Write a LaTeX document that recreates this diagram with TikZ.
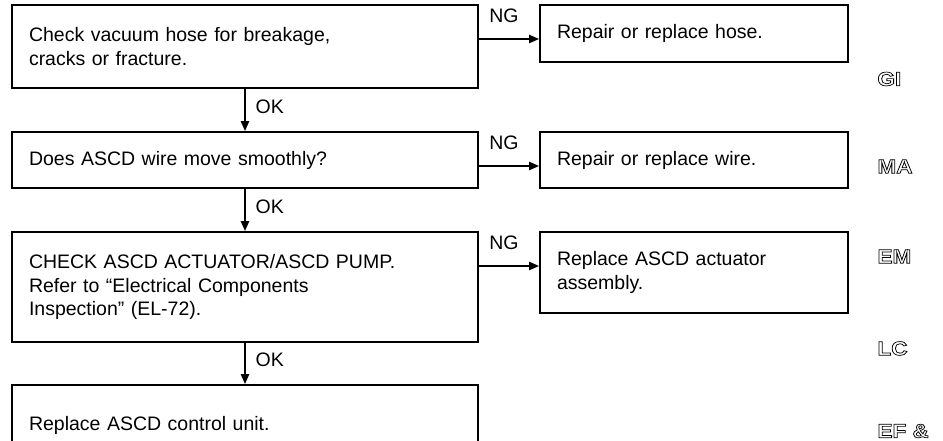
\documentclass[tikz,border=0pt]{standalone}
\usepackage{fontspec}
\setmainfont{Liberation Sans}
\newfontfamily\tabfont{Liberation Sans Bold}
\usetikzlibrary{arrows.meta}

% hollow letters for the section tabs
\newcommand{\hollowtext}[1]{\special{pdf:code 1 Tr 0.35 w}#1\special{pdf:code 0 Tr}}

\begin{document}
\begin{tikzpicture}[x=0.5pt,y=-0.5pt,
    >={Triangle[length=5pt,width=4.2pt]},
    step box/.style={draw, line width=1pt, align=left, inner xsep=8.5pt,
        font=\fontsize{9.75}{11.6}\selectfont},
    left box/.style={step box, text width=216pt},
    right box/.style={step box, text width=137pt},
    flow/.style={->, line width=0.7pt},
    tag/.style={font=\fontsize{9.75}{11.6}\selectfont, inner sep=0pt},
    tab/.style={font=\tabfont\fontsize{9.8}{11}\selectfont, xscale=1.15,
        anchor=west, inner sep=0pt}]

    \useasboundingbox (0,0) rectangle (943,440);
    \clip (0,0) rectangle (943,440);

    % Kroky vlevo
    \node[left box, minimum height=41.5pt] (b1) at (245,46.5)
        {Check vacuum hose for breakage,\\cracks or fracture.};
    \node[left box, minimum height=28pt] (b2) at (245,160)
        {Does ASCD wire move smoothly?};
    \node[left box, minimum height=55pt] (b3) at (245,287)
        {CHECK ASCD ACTUATOR/ASCD PUMP.\\Refer to ``Electrical Components\\Inspection'' (EL-72).};
    \node[left box, minimum height=40pt] (b4) at (245,425)
        {Replace ASCD control unit.};

    % Opravy vpravo
    \node[right box, minimum height=28.5pt] (r1) at (694,33.5)
        {Repair or replace hose.};
    \node[right box, minimum height=28pt] (r2) at (694,160)
        {Repair or replace wire.};
    \node[right box, minimum height=40.5pt] (r3) at (694,272.5)
        {Replace ASCD actuator\\assembly.};

    % OK
    \foreach \a/\b in {b1/b2, b2/b3, b3/b4}{
        \draw[flow] (\a) -- (\b)
            node[tag, pos=0.42, right=5pt] (ok-\a) {OK};
    }

    % NG
    \foreach \a/\b in {b1/r1, b2/r2, b3/r3}{
        \coordinate (ng-\a) at ([yshift=-17.5pt]\a.north east);
        \draw[flow] (ng-\a) -- (ng-\a -| \b.west);
        \node[tag, anchor=base west] (ngtag-\a)
            at ([xshift=5pt,yshift=8.5pt]ng-\a) {NG};
    }

    % Zalozky
    \node[tab] (gi) at (877,79)    {\hollowtext{GI}};
    \node[tab] (ma) at (877,166.5) {\hollowtext{MA}};
    \node[tab] (em) at (877,256.5) {\hollowtext{EM}};
    \node[tab] (lc) at (877,348.5) {\hollowtext{LC}};
    \node[tab] (ef) at (877,431)   {\hollowtext{EF \&}};

\end{tikzpicture}
\end{document}
